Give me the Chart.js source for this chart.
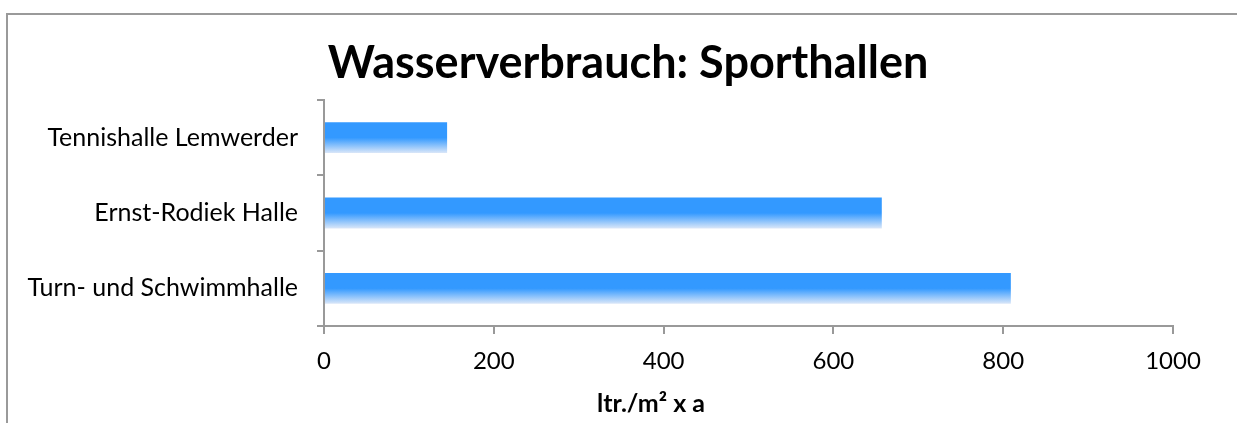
<!DOCTYPE html>
<html><head><meta charset="utf-8">
<script src="https://cdn.jsdelivr.net/npm/chart.js@4/dist/chart.umd.min.js"></script>
<style>
html,body{margin:0;padding:0;background:#fff;overflow:hidden;width:1237px;height:423px}
#frame{position:absolute;left:6px;top:13px;width:1260px;height:450px;border-top:2px solid #9a9a9a;border-left:2px solid #9a9a9a;box-sizing:border-box}
#c{position:absolute;left:0;top:0}
</style></head><body>
<div id="frame"></div>
<canvas id="c" width="1237" height="423"></canvas>
<script>
const categories = ['Tennishalle Lemwerder', 'Ernst-Rodiek Halle', 'Turn- und Schwimmhalle'];
const values = [145, 657, 809];
const xTicks = [0, 200, 400, 600, 800, 1000];
const chartTitle = 'Wasserverbrauch: Sporthallen';
const xAxisTitle = 'ltr./m² x a';

const BAR_FRACTION = 0.41;

const titlesPlugin = {
  id: 'titles',
  afterDraw(chart) {
    const { ctx, chartArea } = chart;
    ctx.save();
    ctx.fillStyle = '#000';
    ctx.textAlign = 'center';
    ctx.textBaseline = 'alphabetic';
    ctx.font = 'bold 45px Lato';
    ctx.fillText(chartTitle, chartArea.left + 304, chartArea.top - 22);
    ctx.font = 'bold 25px Lato';
    ctx.fillText(xAxisTitle, chartArea.left + 327, chartArea.bottom + 86);
    ctx.restore();
  }
};

new Chart(document.getElementById('c'), {
  type: 'bar',
  data: {
    labels: categories,
    datasets: [{
      data: values,
      categoryPercentage: 1,
      barPercentage: BAR_FRACTION,
      borderWidth: 0,
      backgroundColor: (c) => {
        const chart = c.chart;
        const area = chart.chartArea;
        if (!area || c.dataIndex === undefined || !chart.scales.y) return '#3399ff';
        const y = chart.scales.y.getPixelForValue(c.dataIndex);
        const h = (area.bottom - area.top) / categories.length * BAR_FRACTION;
        const g = chart.ctx.createLinearGradient(0, y - h / 2, 0, y + h / 2);
        g.addColorStop(0, '#3399ff');
        g.addColorStop(0.5, '#3399ff');
        g.addColorStop(1, '#dbe7f8');
        return g;
      }
    }]
  },
  options: {
    indexAxis: 'y',
    responsive: false,
    animation: false,
    layout: { padding: { top: 100, right: 64, bottom: 0, left: 0 } },
    plugins: { legend: { display: false }, tooltip: { enabled: false }, title: { display: false } },
    scales: {
      y: {
        type: 'category',
        grid: { drawOnChartArea: false, tickLength: 7, color: '#999', lineWidth: 2, offset: true },
        border: { display: true, color: '#999', width: 2 },
        ticks: { color: '#000', font: { family: 'Lato', size: 25 }, padding: 19 },
        afterFit(s) { s.width = 324; }
      },
      x: {
        min: xTicks[0],
        max: xTicks[xTicks.length - 1],
        ticks: {
          stepSize: xTicks[1] - xTicks[0],
          color: '#000',
          font: { family: 'Lato', size: 24 },
          padding: 13,
          callback: (v) => String(v)
        },
        grid: { drawOnChartArea: false, tickLength: 8, color: '#999', lineWidth: 2 },
        border: { color: '#999', width: 2 },
        afterFit(s) { s.height = 97; }
      }
    }
  },
  plugins: [titlesPlugin]
});
</script>
</body></html>
